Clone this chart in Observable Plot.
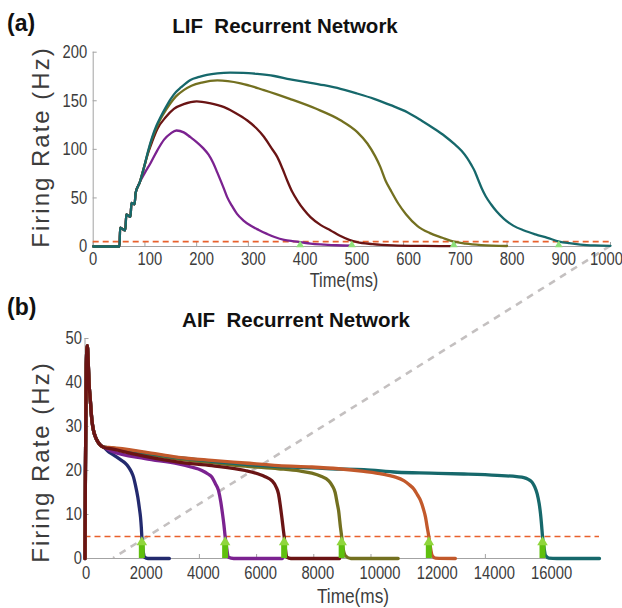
<!DOCTYPE html>
<html><head><meta charset="utf-8">
<script src="https://cdn.jsdelivr.net/npm/d3@7"></script>
<script src="https://cdn.jsdelivr.net/npm/@observablehq/plot@0.6"></script>
<style>
body{margin:0;background:#fff;}
#wrap{position:relative;width:622px;height:608px;overflow:hidden;background:#fff;}
#wrap > svg, #wrap > .panel{position:absolute;left:0;}
</style></head><body><div id="wrap"></div>
<script>
// ---------- Panel (a): LIF recurrent network ----------
const lifXTicks = [0,100,200,300,400,500,600,700,800,900,1000];
const lifYTicks = [0,50,100,150,200];
const lifThreshold = 5;
const lifCross = [400, 500, 697, 900];
const lifRise = [[0,0],[51,0],[52,19.5],[62,16.5],[64,33],[72,30.5],[74,45],[80,43.5],[82,55],[90,66]];
const lifPurple = [[100,76],[111,86],[124,99],[137,110],[150,116.5],[161,119.4],[175,117.5],[188,112.5],[200,107.5],[212,101.5],[223,94.5],[232,86],[240,76],[247,67],[253,59],[259,50.8],[268,42],[278,33.6],[290,27],[304,21.6],[320,17],[336,13],[352,9.5],[369,6.9],[385,5.5],[400,4.5],[420,3],[446,2],[470,1.3],[500,1]];
const lifMaroon = [[98,81],[106,96],[114,108],[124,121],[140,133],[156,141.7],[175,146.5],[200,149.3],[225,147.5],[253,143.4],[275,137.5],[298,129.7],[315,122],[330,113],[345,101],[356,92],[366,80],[375,68],[385,56],[395,47],[407,38],[420,30.2],[440,22],[459,16.5],[477,11],[495,6.9],[510,4.5],[540,2.5],[580,1.2],[640,0.6],[690,0.4]];
const lifOlive = [[98,81],[106,97],[114,111],[122,122],[130,131],[140,140],[150,148],[160,154.5],[175,161],[190,165.5],[210,168.8],[240,171],[285,168],[330,161],[380,152],[430,142],[478,130],[510,118],[530,106],[545,93],[555,82],[565,68],[575,58],[590,44],[605,33],[627,21],[650,14],[675,9],[697,5],[720,3],[750,1.5],[800,0.5]];
const lifTeal = [[98,81],[106,98],[114,112.5],[122,124],[130,133],[140,143],[150,152],[160,159],[170,164],[188,171.5],[205,174.5],[220,176.7],[240,178.3],[265,179],[290,178.8],[317,177.7],[350,175.5],[381,172],[415,169],[446,166],[478,162.3],[510,157.5],[543,152],[575,145.5],[608,138],[635,129.5],[660,121],[680,113.5],[698,105.6],[712,98.5],[723,91],[731,84],[738,77],[744,69],[751,60],[759,51.5],[769,43.5],[780,36],[794,28.5],[812,21.5],[833,16.5],[855,12.5],[878,8.9],[901,5.1],[920,3.4],[942,2],[970,1.1],[1000,0.7]];

// ---------- Panel (b): AIF recurrent network ----------
const aifXTicks = [0,2000,4000,6000,8000,10000,12000,14000,16000];
const aifYTicks = [0,10,20,30,40,50];
const aifThreshold = 5;
const aifCross = [1987, 4900, 6964, 8975, 12022, 15997];
const aifSpike = [[0,0],[15,20],[45,44],[80,48.4],[110,45],[140,40],[180,36.5],[240,31.5],[300,29],[355,27.8],[450,26.5],[530,25.8],[650,25.3]];
const aifNavy = [[820,24.3],[938,23.8],[1100,23.1],[1273,22.3],[1400,21.7],[1521,20.8],[1620,19.7],[1696,18.5],[1760,16.8],[1847,13.9],[1900,11.5],[1941,9.4],[1970,7],[1987,5],[2010,3],[2050,1],[2080,0.3],[2200,0],[2950,0]];
const aifPurple = [[938,24.4],[2104,22.7],[3269,21.5],[3700,20.8],[4085,20],[4300,19.2],[4434,18.5],[4560,17],[4667,15.5],[4750,12.8],[4807,10.2],[4860,7.5],[4900,5],[4950,2.5],[5016,0.3],[5200,0],[6900,0]];
const aifMaroon = [[938,24.9],[2104,23.2],[3269,21.9],[4434,21.1],[5600,20],[6066,19.2],[6300,18.6],[6533,17.7],[6680,16.3],[6766,14.7],[6830,12],[6882,9.4],[6930,6.8],[6964,5],[7010,2],[7057,0.3],[7200,0],[8900,0]];
const aifOlive = [[938,25.1],[2104,23.8],[3269,22.6],[4434,21.8],[5600,21],[6766,20.4],[7500,19.9],[7931,19.4],[8250,18.7],[8514,17.7],[8650,16.5],[8747,15],[8820,12.5],[8864,11],[8934,7],[8975,5],[9020,2.5],[9109,0.6],[9300,0],[10950,0]];
const aifOrange = [[938,25.2],[2104,24.2],[3269,23],[4434,22.3],[5600,21.7],[6766,21.1],[7931,20.8],[8864,20.4],[9750,19.8],[10400,19.2],[10800,18.6],[11148,17.7],[11350,16.7],[11497,15.8],[11620,14.5],[11731,13.2],[11830,11.3],[11906,9.4],[11960,7.3],[12022,5],[12080,2.5],[12138,0.7],[12254,0.1],[12950,0]];
const aifTeal = [[938,25.1],[2104,24],[3269,22.9],[4434,22.1],[5600,21.4],[6766,20.9],[7931,20.6],[8584,20.4],[9750,20.2],[10915,19.6],[12080,19.4],[13246,19.2],[14412,18.9],[15100,18.6],[15345,18.4],[15500,18],[15636,17.3],[15730,16.2],[15811,14.7],[15880,12.5],[15927,10.2],[15970,7.2],[15997,5],[16050,2.5],[16102,0.7],[16219,0.1],[16500,0],[17990,0]];

const C = {navy:"#232a6e", purple:"#7b2290", maroon:"#6a1414", olive:"#737020", orange:"#c2592b", teal:"#16686b"};
const AX = "#a3a3a3", TXT = "#3c3c3c", RED = "#e8602c";
const tickFont = "'Liberation Sans',Arial,sans-serif";
const fmt = d3.format("d");

const pts = (arr) => arr.map(([t, r]) => ({t, r}));
const lineA = (arr, color) => Plot.line(pts([...lifRise, ...arr]), {x: "t", y: "r", stroke: color, strokeWidth: 2.3, curve: "monotone-x"});
const lineB = (arr, color) => Plot.line(pts([...aifSpike, ...arr]), {x: "t", y: "r", stroke: color, strokeWidth: 3.3, curve: "monotone-x"});
// tick marks (inward) and labels as separate axis marks, labels nudged like the reference
const xTickMarks = (ticks) => Plot.axisX({ticks, tickSize: -4, tickFormat: () => "", stroke: AX, label: null});
const xTickLabels = (ticks, dx, pad = 6) => Plot.axisX({ticks, tickSize: 0, tickPadding: pad, tickFormat: fmt, dx, label: null});

const plotA = Plot.plot({
  width: 622, height: 290,
  marginLeft: 92.7, marginRight: 12, marginTop: 51.7, marginBottom: 44,
  x: {domain: [0, 1000], label: null},
  y: {domain: [0, 200], label: null},
  style: {background: "transparent", fontFamily: tickFont, fontSize: "18px", color: TXT, overflow: "visible"},
  marks: [
    Plot.ruleX([0], {y1: 0, y2: 200, stroke: AX}),
    Plot.ruleY([0], {stroke: AX}),
    xTickMarks(lifXTicks),
    xTickLabels(lifXTicks.filter(d => d === 0), 0),
    xTickLabels(lifXTicks.filter(d => d > 0 && d < 1000), 5),
    xTickLabels(lifXTicks.filter(d => d === 1000), -4),
    Plot.axisY({ticks: lifYTicks, tickFormat: fmt, tickSize: -4, tickPadding: 10, stroke: AX, label: null}),
    Plot.ruleY([lifThreshold], {stroke: RED, strokeWidth: 1.6, strokeDasharray: "6,4"}),
    lineA(lifPurple, C.purple),
    lineA(lifMaroon, C.maroon),
    lineA(lifOlive, C.olive),
    lineA(lifTeal, C.teal),
    Plot.dot(lifCross, {x: d => d, y: 0, symbol: "triangle", r: 2.9, fill: "#8ee07a", stroke: "none", dy: -1.5})
  ]
});

const plotB = Plot.plot({
  width: 622, height: 318,
  marginLeft: 84.5, marginRight: 23, marginTop: 48, marginBottom: 50,
  x: {domain: [0, 17990], label: null},
  y: {domain: [0, 50], label: null},
  style: {background: "transparent", fontFamily: tickFont, fontSize: "18px", color: TXT, overflow: "visible"},
  marks: [
    Plot.ruleX([0], {y1: 0, y2: 50, stroke: AX}),
    Plot.ruleY([0], {stroke: AX}),
    xTickMarks(aifXTicks),
    xTickLabels(aifXTicks.filter(d => d === 0), 1, 8),
    xTickLabels(aifXTicks.filter(d => d > 0 && d < 10000), 4, 8),
    xTickLabels(aifXTicks.filter(d => d >= 10000), 9, 8),
    Plot.axisY({ticks: aifYTicks, tickFormat: fmt, tickSize: -4, tickPadding: 7, stroke: AX, label: null}),
    Plot.ruleY([aifThreshold], {stroke: RED, strokeWidth: 1.6, strokeDasharray: "6,4"}),
    lineB(aifNavy, C.navy),
    lineB(aifPurple, C.purple),
    lineB(aifOlive, C.olive),
    lineB(aifTeal, C.teal),
    lineB(aifOrange, C.orange),
    lineB(aifMaroon, C.maroon),
    Plot.ruleX(aifCross, {x: d => d, y1: 0, y2: 3.1, stroke: "#5fbf0e", strokeWidth: 6}),
    Plot.dot(aifCross, {x: d => d, y: aifThreshold, symbol: "triangle", r: 3.9, fill: "#8fd63c", stroke: "none", dy: 5.8})
  ]
});

const wrap = document.getElementById("wrap");
const topB = 290;

// underlay with texts and the zoom connector
const W = 622, H = 608;
const svg = d3.create("svg").attr("width", W).attr("height", H).style("top", "0px")
  .style("font-family", "'Liberation Sans',Arial,Helvetica,sans-serif");
const xa = plotA.scale("x"), ya = plotA.scale("y"), xb = plotB.scale("x"), yb = plotB.scale("y");
svg.append("line")
  .attr("x1", xa.apply(1000)).attr("y1", ya.apply(0))
  .attr("x2", xb.apply(1000)).attr("y2", topB + yb.apply(0))
  .attr("stroke", "#c4c0c0").attr("stroke-width", 2.6).attr("stroke-dasharray", "7,6");

const narrow = [];
const txt = (s, x, y, o = {}) => {
  const t = svg.append("text").attr("x", x).attr("y", y).text(s)
    .attr("font-size", o.size || 18).attr("fill", o.fill || "#111")
    .attr("font-weight", o.bold ? "bold" : "normal")
    .attr("text-anchor", o.anchor || "start").style("white-space", "pre");
  if (o.ls) t.attr("letter-spacing", o.ls);
  if (o.rotate) t.attr("transform", `rotate(-90 ${x} ${y})`);
  if (o.narrow) narrow.push(t.node());
  return t;
};
txt("(a)", 7, 31, {size: 23, bold: true});
txt("LIF  Recurrent Network", 285, 33, {size: 20.5, bold: true, anchor: "middle"});
txt("Time(ms)", 344, 287, {size: 20, fill: TXT, anchor: "middle", narrow: true});
txt("Firing Rate (Hz)", 48.5, 147, {size: 24, fill: TXT, anchor: "middle", rotate: true, ls: 2});
txt("(b)", 7, 315, {size: 23, bold: true});
txt("AIF  Recurrent Network", 296, 327, {size: 20.5, bold: true, anchor: "middle"});
txt("Time(ms)", 353, 603, {size: 21, fill: TXT, anchor: "middle", narrow: true});
txt("Firing Rate (Hz)", 48.5, 462, {size: 24, fill: TXT, anchor: "middle", rotate: true, ls: 2});

wrap.appendChild(svg.node());
const pa = document.createElement("div"); pa.className = "panel"; pa.style.top = "0px"; pa.appendChild(plotA);
const pb = document.createElement("div"); pb.className = "panel"; pb.style.top = topB + "px"; pb.appendChild(plotB);
wrap.appendChild(pa); wrap.appendChild(pb);

// condense the tick-label and axis-title glyphs (the reference uses a narrow face)
const squeeze = (el, k) => {
  const w = el.getComputedTextLength();
  if (w > 0) { el.setAttribute("textLength", (w * k).toFixed(2)); el.setAttribute("lengthAdjust", "spacingAndGlyphs"); }
};
[plotA, plotB].forEach(p => p.querySelectorAll("text").forEach(el => squeeze(el, 0.82)));
narrow.forEach(el => squeeze(el, 0.82));
</script>
</body></html>
